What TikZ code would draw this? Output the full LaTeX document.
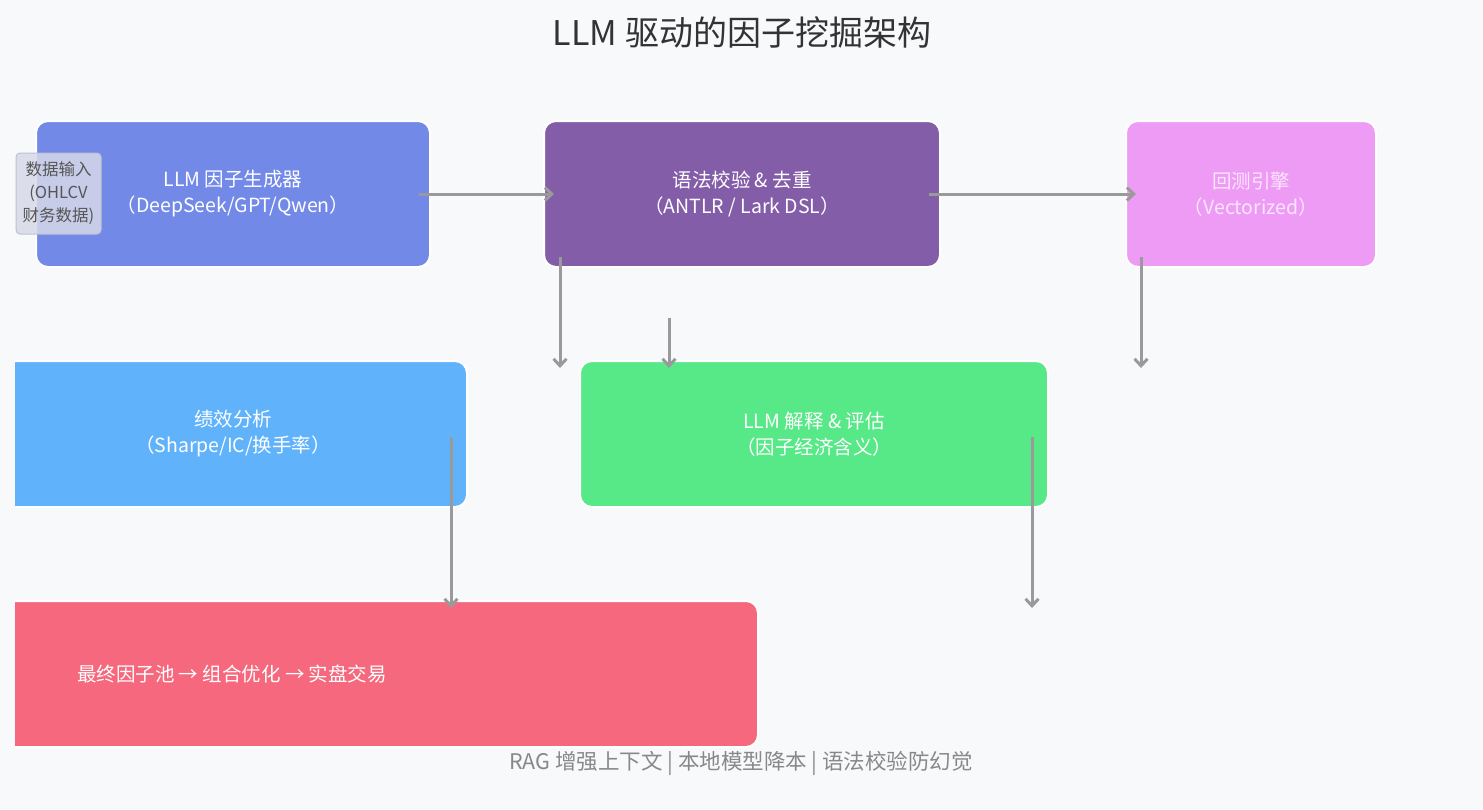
\documentclass[tikz,border=0pt]{standalone}
\usepackage{fontspec}
\setmainfont{Noto Sans CJK SC}
\usetikzlibrary{arrows.meta,calc}
\definecolor{bg}{HTML}{F8F9FB}
\definecolor{cgen}{HTML}{7289E8}
\definecolor{csyn}{HTML}{845DA9}
\definecolor{cbt}{HTML}{EE9BF6}
\definecolor{cperf}{HTML}{60B2FB}
\definecolor{cexpl}{HTML}{57E888}
\definecolor{cfin}{HTML}{F5687D}
\definecolor{carrow}{HTML}{9A9A9A}
\definecolor{ctitle}{HTML}{333333}
\definecolor{cnote}{HTML}{888888}
\definecolor{cdata}{HTML}{D7D9E8}
\definecolor{cdataline}{HTML}{BFC1CC}
\definecolor{cdatatext}{HTML}{555555}
\begin{document}
\begin{tikzpicture}[x=1pt,y=-1pt,
  box/.style={draw=white, line width=2pt, rounded corners=12pt, inner sep=0pt,
    minimum height=146pt, align=center, text=white,
    font=\fontsize{19.5}{26}\selectfont},
  flow/.style={draw=carrow, line width=3pt, -{Straight Barb[length=7pt,width=13pt]}},
  databox/.style={draw=cdataline, line width=1pt, fill=cdata, fill opacity=0.85,
    text opacity=1, rounded corners=4pt, inner sep=0pt, minimum width=85pt,
    minimum height=81pt, align=center, text=cdatatext,
    font=\fontsize{16.5}{23}\selectfont}]
\fill[bg] (0,0) rectangle (1483,809);
\useasboundingbox (0,0) rectangle (1483,809);

\node[font=\fontsize{34}{40}\selectfont, text=ctitle] (title) at (742,32) {LLM 驱动的因子挖掘架构};

\node[box, fill=cgen, minimum width=394pt] (gen) at (233,194) {LLM 因子生成器\\（DeepSeek/GPT/Qwen）};
\node[box, fill=csyn, minimum width=396pt] (syn) at (742,194) {语法校验 \& 去重\\（ANTLR / Lark DSL）};
\node[box, fill=cbt, minimum width=250pt, text=white!75!cbt] (bt) at (1251,194) {回测引擎\\（Vectorized）};

\begin{scope}
\clip (15,0) rectangle (1483,809);
\node[box, fill=cperf, minimum width=468pt] (perf) at (233,434) {绩效分析\\（Sharpe/IC/换手率）};
\node[box, fill=cfin, minimum width=1052pt, text opacity=0] (fin) at (232,674) {};
\end{scope}
\node[text=white, font=\fontsize{19.5}{26}\selectfont] (fintext) at (232,674) {最终因子池 → 组合优化 → 实盘交易};
\node[box, fill=cexpl, minimum width=468pt] (expl) at (814,434) {LLM 解释 \& 评估\\（因子经济含义）};

\node[databox] (data) at (58.5,193.5) {数据输入\\(OHLCV\\财务数据)};

\node[text=cnote, font=\fontsize{21.5}{26}\selectfont] (note) at (741,763) {RAG 增强上下文 | 本地模型降本 | 语法校验防幻觉};

% connector end points
\coordinate (a1s) at ($(gen.east)+(-12,0)$);
\coordinate (a1e) at ($(syn.west)+(11,0)$);
\coordinate (a2s) at ($(syn.east)+(-12,0)$);
\coordinate (a2e) at ($(bt.west)+(11,0)$);
\coordinate (a3s) at (560,257);
\coordinate (a3e) at (560,368);
\coordinate (a4s) at (669,318);
\coordinate (a4e) at (669,368);
\coordinate (a5s) at (1141,257);
\coordinate (a5e) at (1141,368);
\coordinate (a6s) at (451,437);
\coordinate (a6e) at (451,608);
\coordinate (a7s) at (1032,437);
\coordinate (a7e) at (1032,608);

\draw[flow] (a1s) -- (a1e);
\draw[flow] (a2s) -- (a2e);
\draw[flow] (a3s) -- (a3e);
\draw[flow] (a4s) -- (a4e);
\draw[flow] (a5s) -- (a5e);
\draw[flow] (a6s) -- (a6e);
\draw[flow] (a7s) -- (a7e);
\end{tikzpicture}
\end{document}
